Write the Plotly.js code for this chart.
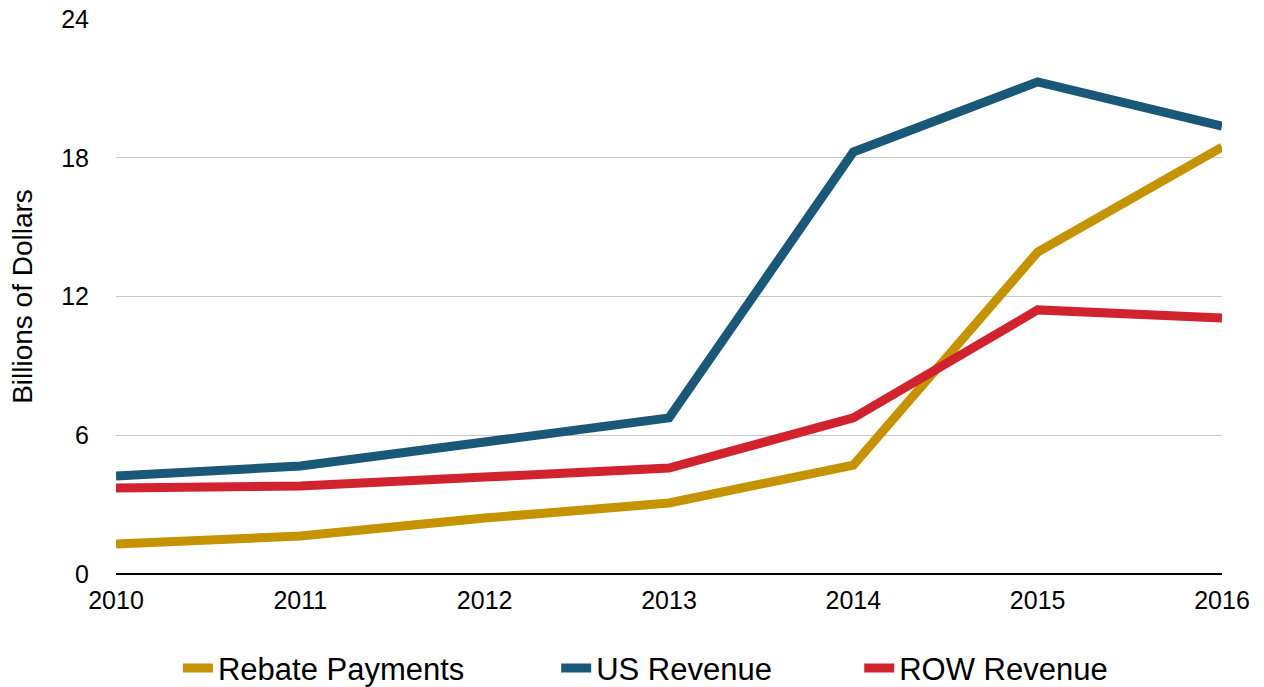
<!DOCTYPE html>
<html>
<head>
<meta charset="utf-8">
<script src="https://cdn.plot.ly/plotly-3.0.1.min.js"></script>
<style>
  html, body { margin: 0; padding: 0; background: #fff; }
  #chart { width: 1264px; height: 687px; }
</style>
</head>
<body>
<div id="chart"></div>
<script>
// years on the x axis
const years = [2010, 2011, 2012, 2013, 2014, 2015, 2016];

// values in billions of dollars
const rebatePayments = [1.30, 1.64, 2.42, 3.07, 4.71, 13.92, 18.46];
const usRevenue = [4.24, 4.67, 5.71, 6.75, 18.25, 21.28, 19.37];
const rowRevenue = [3.72, 3.81, 4.19, 4.58, 6.75, 11.42, 11.07];

const yTicks = [0, 6, 12, 18, 24];

const font = "Liberation Sans, Arial, Helvetica, sans-serif";

// one trace per series, each with its own legend box so the spacing matches
const makeTrace = (name, values, color, legendId) => ({
  x: years,
  y: values,
  type: "scatter",
  mode: "lines",
  name: name,
  legend: legendId,
  line: { color: color, width: 9 },
  cliponaxis: false,
});

const traces = [
  makeTrace("Rebate Payments", rebatePayments, "#C69300", "legend"),
  makeTrace("US Revenue", usRevenue, "#1A5877", "legend2"),
  makeTrace("ROW Revenue", rowRevenue, "#D0232D", "legend3"),
];

const legendBase = (x) => ({
  orientation: "h",
  x: x,
  xanchor: "left",
  y: -0.17,
  yanchor: "middle",
  font: { family: font, size: 31, color: "#000" },
  bgcolor: "rgba(0,0,0,0)",
});

const layout = {
  width: 1264,
  height: 687,
  margin: { l: 116, r: 42, t: 19, b: 113, autoexpand: false },
  paper_bgcolor: "#fff",
  plot_bgcolor: "#fff",
  font: { family: font, color: "#000" },
  showlegend: true,
  xaxis: {
    range: [2010, 2016],
    tickvals: years,
    ticktext: years.map(String),
    showgrid: false,
    zeroline: false,
    showline: false,
    ticks: "",
    tickfont: { family: font, size: 25, color: "#000" },
    ticklabelstandoff: 9,
    fixedrange: true,
  },
  yaxis: {
    range: [0, 24],
    tickvals: yTicks,
    ticktext: yTicks.map(String),
    showgrid: true,
    gridcolor: "#c8c8c8",
    gridwidth: 1,
    zeroline: true,
    zerolinecolor: "#000",
    zerolinewidth: 2,
    showline: false,
    ticks: "",
    tickfont: { family: font, size: 25, color: "#000" },
    ticklabelstandoff: 26,
    title: { text: "Billions of Dollars", font: { family: font, size: 28, color: "#000" }, standoff: 20 },
    fixedrange: true,
  },
  legend: legendBase(0.056),
  legend2: legendBase(0.398),
  legend3: legendBase(0.672),
};

Plotly.newPlot("chart", traces, layout, { displayModeBar: false, staticPlot: true });
</script>
</body>
</html>
